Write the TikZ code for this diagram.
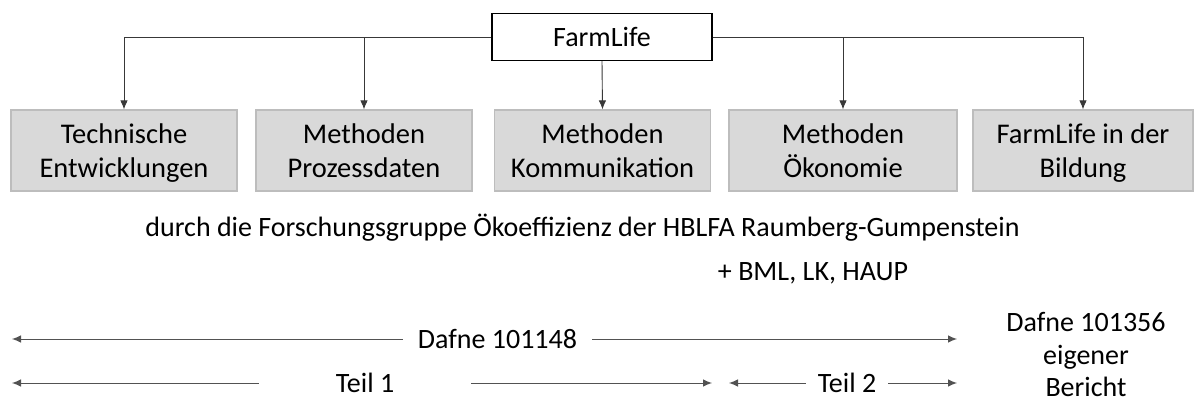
\documentclass[tikz,border=0pt]{standalone}
\usepackage{fontspec}
\setmainfont{Carlito}
\usetikzlibrary{arrows.meta}
\newcommand\toprule{\rule{0pt}{30pt}}
\begin{document}
\begin{tikzpicture}[x=1pt,y=-1pt,
  every node/.style={font=\fontsize{28}{33}\selectfont, inner sep=0pt},
  rootbox/.style={draw=black, line width=1.3pt, fill=white,
    minimum width=220pt, minimum height=47pt},
  topic/.style={draw=gray!52, line width=1.2pt, fill=gray!30,
    minimum height=81pt, align=center,
    font=\fontsize{28.5}{34}\selectfont},
  conn/.style={draw=black!78, line width=0.9pt,
    -{Latex[length=9pt,width=7.5pt]}},
  span/.style={draw=black!68, line width=0.9pt,
    -{Latex[length=9pt,width=7.5pt]}},
]
\useasboundingbox (0,0) rectangle (1195,403);

% project root and its five work packages
\node[rootbox] (farm) at (602,37) {FarmLife};
\node[topic, minimum width=226pt] (b1) at (124,150.5) {\toprule Technische\\\strut Entwicklungen};
\node[topic, minimum width=216pt] (b2) at (364,150.5) {\toprule Methoden\\\strut Prozessdaten};
\node[topic, minimum width=216pt] (b3) at (602.5,150.5) {\toprule Methoden\\\strut Kommunikation};
\node[topic, minimum width=228pt] (b4) at (843,150.5) {\toprule Methoden\\\strut Ökonomie};
\node[topic, minimum width=220pt] (b5) at (1083,150.5) {\toprule FarmLife in der\\\strut Bildung};

\draw[conn] (farm.west) -| (b1.north);
\draw[conn] (farm.west) -| (b2.north);
\draw[conn] (farm.south) -- (b3.north);
\draw[conn] (farm.east) -| (b4.north);
\draw[conn] (farm.east) -| (b5.north);

% who carries the work
\node[anchor=base] (group) at (582.5,237)
  {durch die Forschungsgruppe Ökoeffizienz der HBLFA Raumberg-Gumpenstein};
\node[anchor=base] (partners) at (813,281) {+ BML, LK, HAUP};

% funding periods
\node[inner xsep=15pt] (dafA) at (497.5,339) {Dafne 101148};
\coordinate (dafAl) at (12,339);
\coordinate (dafAr) at (957,339);
\draw[span] (dafA.west) -- (dafAl);
\draw[span] (dafA.east) -- (dafAr);

\node[inner xsep=77pt] (teil1) at (365,383) {Teil 1};
\coordinate (t1l) at (12,383);
\coordinate (t1r) at (712,383);
\draw[span] (teil1.west) -- (t1l);
\draw[span] (teil1.east) -- (t1r);

\node[inner xsep=12pt] (teil2) at (847,383) {Teil 2};
\coordinate (t2l) at (729,383);
\coordinate (t2r) at (957,383);
\draw[span] (teil2.west) -- (t2l);
\draw[span] (teil2.east) -- (t2r);

\node[align=center, font=\fontsize{28}{32.5}\selectfont] (dafB) at (1086,355)
  {Dafne 101356\\eigener\\Bericht};
\end{tikzpicture}
\end{document}
